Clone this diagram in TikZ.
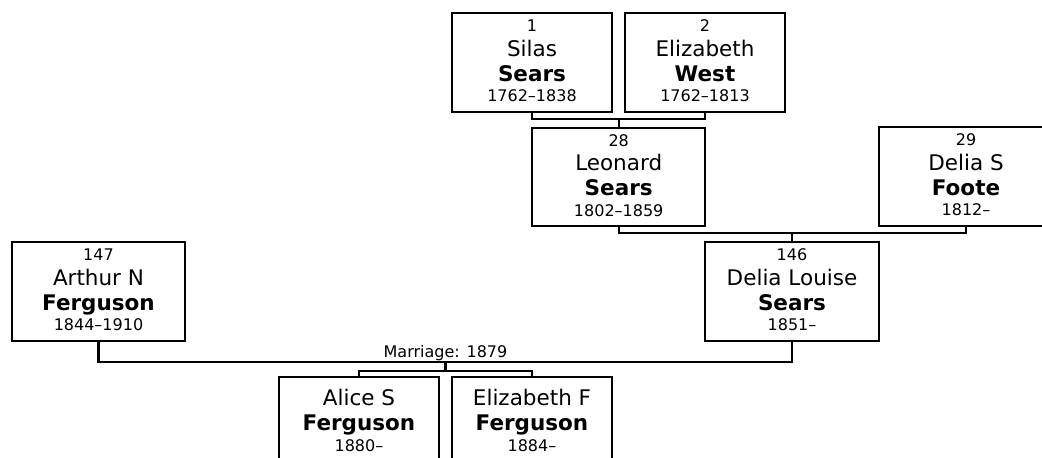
\documentclass[tikz,border=0pt]{standalone}
\usepackage{fontspec}
\setmainfont{DejaVu Sans}
\tikzset{
  pbox/.style={draw, line width=2.3pt, minimum height=98.4pt, inner sep=0pt, outer sep=0pt},
  numtxt/.style={font=\fontsize{16}{16}\selectfont, anchor=base, inner sep=0pt},
  nametxt/.style={font=\fontsize{21.5}{21.5}\selectfont, anchor=base, inner sep=0pt},
  surtxt/.style={font=\fontsize{21.5}{21.5}\selectfont\bfseries, anchor=base, inner sep=0pt},
  conn/.style={line width=2.3pt}
}
% id, cx, top, width, number, first, last, dates
\newcommand\fperson[8]{%
  \node[pbox, minimum width=#4pt] (#1) at (#2, #3+49.2) {};
  \node[numtxt]  (#1n) at (#2, #3+18.6) {#5};
  \node[nametxt] (#1f) at (#2, #3+43.2) {#6};
  \node[surtxt]  (#1l) at (#2, #3+67.8) {#7};
  \node[numtxt]  (#1d) at (#2, #3+88.5) {#8};
}
% id, cx, top, width, first, last, dates
\newcommand\cperson[7]{%
  \node[pbox, minimum width=#4pt] (#1) at (#2, #3+49.2) {};
  \node[nametxt] (#1f) at (#2, #3+28) {#5};
  \node[surtxt]  (#1l) at (#2, #3+53) {#6};
  \node[numtxt]  (#1d) at (#2, #3+74.5) {#7};
}
\begin{document}
\begin{tikzpicture}[x=1pt, y=-1pt]
  \useasboundingbox (0,0) rectangle (1042,458);
  \fperson{silas}{532}{13.3}{160}{1}{Silas}{Sears}{1762–1838}
  \fperson{eliz}{705}{13.3}{160}{2}{Elizabeth}{West}{1762–1813}
  \fperson{leonard}{618.7}{127.7}{173}{28}{Leonard}{Sears}{1802–1859}
  \fperson{foote}{966}{127.3}{174}{29}{Delia S}{Foote}{1812–}
  \fperson{delia}{792}{242.3}{174}{146}{Delia Louise}{Sears}{1851–}
  \fperson{arthur}{98.5}{242.3}{173}{147}{Arthur N}{Ferguson}{1844–1910}
  \cperson{alice}{359}{377}{160}{Alice S}{Ferguson}{1880–}
  \cperson{elizf}{532}{377}{160}{Elizabeth F}{Ferguson}{1884–}

  % Silas + Elizabeth -> Leonard
  \coordinate (m1) at (leonard.north |- 0,119.3);
  \draw[conn] (silas.south) |- (m1) -| (eliz.south);
  \draw[conn] (m1) -- (leonard.north);
  % Leonard + Delia S -> Delia Louise
  \coordinate (m2) at (delia.north |- 0,233.3);
  \draw[conn] (leonard.south) |- (m2) -| (foote.south);
  \draw[conn] (m2) -- (delia.north);
  % Arthur + Delia Louise -> children
  \coordinate (m3) at (445.5,361.7);
  \coordinate (m4) at (445.5,370.7);
  \draw[conn] (arthur.south) |- (m3) -| (delia.south);
  \draw[conn] (m3) -- (m4);
  \draw[conn] (alice.north) |- (m4) -| (elizf.north);
  \node[numtxt] (marr) at (445.5,357.5) {Marriage: 1879};
\end{tikzpicture}
\end{document}
